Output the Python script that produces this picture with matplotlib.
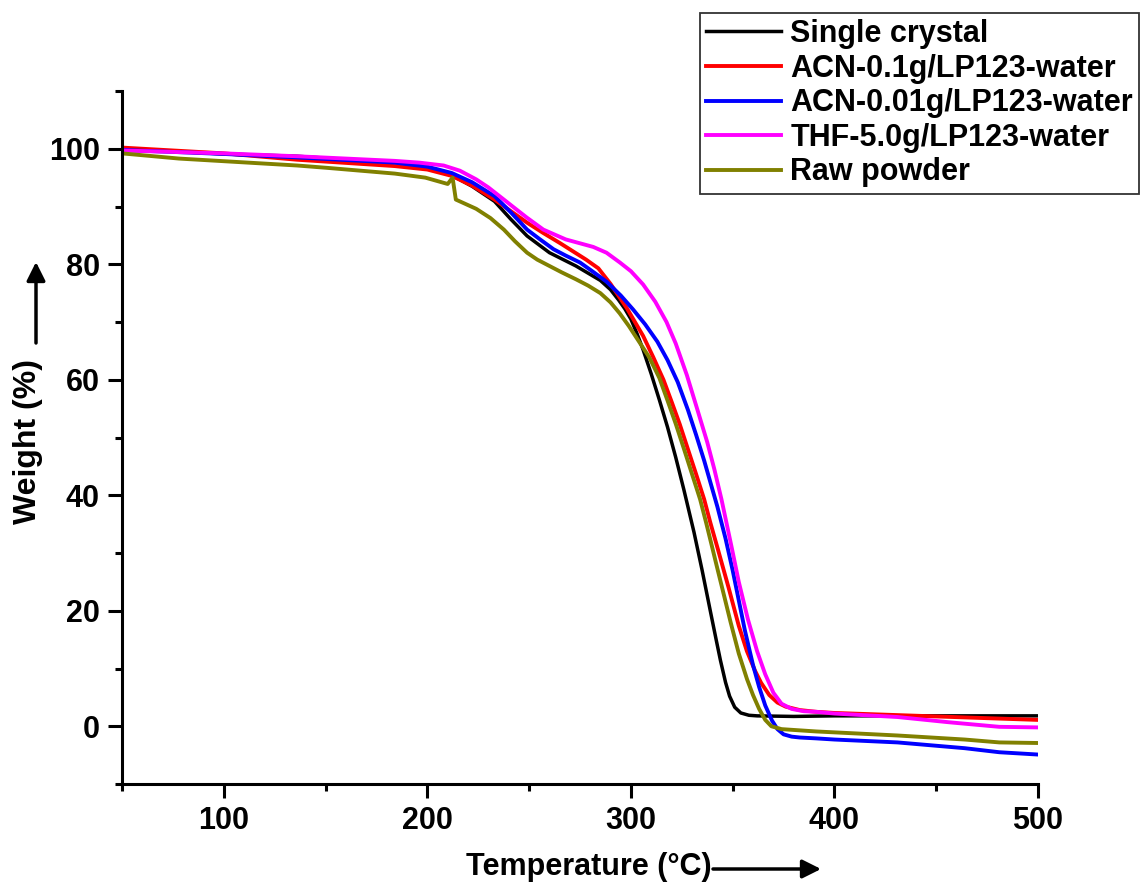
import matplotlib
matplotlib.use("Agg")
import matplotlib.pyplot as plt
from matplotlib.ticker import MultipleLocator

plt.rcParams['font.family'] = ['Liberation Sans', 'DejaVu Sans']
plt.rcParams['font.weight'] = 'bold'

# ---- data ----
labels = ["Single crystal", "ACN-0.1g/LP123-water", "ACN-0.01g/LP123-water",
          "THF-5.0g/LP123-water", "Raw powder"]
colors = ["#000000", "#ff0000", "#0000ff", "#ff00ff", "#808000"]

t_single = [50, 100, 136, 184, 200, 210, 222, 233, 241, 249, 260, 273, 285, 290, 294, 297,
            300, 303, 306, 310, 314, 318, 322, 326, 331, 335, 339, 342, 344, 346.5, 348.5,
            351, 354, 358, 362, 380, 400, 450, 500]
w_single = [100, 99.1, 98.7, 97.6, 96.8, 95.8, 93.5, 90.9, 87.8, 84.9, 82.0, 79.7, 77.2, 75.6,
            73.8, 72.3, 70.5, 68.0, 65.2, 61.0, 56.5, 51.8, 46.6, 41.0, 33.6, 27.0, 20.0, 14.8,
            11.4, 7.6, 5.2, 3.3, 2.3, 1.9, 1.8, 1.7, 1.8, 1.8, 1.8]

t_acn01 = [50, 100, 136, 184, 200, 212, 222, 233, 241, 249, 257, 265, 278, 284, 290, 298, 306,
           311, 316, 320, 324, 328, 332, 336, 339, 342.7, 348, 353, 357, 361, 364, 368, 372,
           376, 383, 391, 400, 450, 500]
w_acn01 = [100.2, 99.2, 98.1, 97.0, 96.4, 95.3, 93.6, 91.2, 89.2, 87.2, 85.4, 83.7, 80.8, 79.3,
           76.6, 72.4, 67.6, 63.9, 60.0, 56.2, 52.3, 48.0, 43.7, 39.3, 35.3, 30.7, 24.0, 17.4,
           13.0, 9.6, 7.5, 5.4, 4.1, 3.4, 2.8, 2.5, 2.3, 1.7, 1.1]

t_acn001 = [50, 100, 136, 184, 200, 212, 222, 233, 241, 249, 255, 262, 268, 275, 281, 288, 295,
            301, 307, 313, 318, 323, 328, 332, 336, 342.5, 346.5, 350, 353, 356, 360, 363, 366,
            369.3, 372, 375, 379, 383, 391, 400, 431, 464, 481, 500]
w_acn001 = [99.8, 99.1, 98.5, 97.6, 96.9, 95.8, 94.2, 91.8, 89.0, 86.0, 84.4, 82.6, 81.5, 80.3,
            78.8, 77.0, 74.6, 72.2, 69.6, 66.6, 63.4, 59.6, 54.8, 50.5, 46.0, 38.0, 32.5, 27.0,
            21.8, 16.6, 10.6, 6.8, 3.6, 1.0, -0.5, -1.4, -1.8, -1.95, -2.1, -2.3, -2.8, -3.8,
            -4.5, -4.9]

t_thf = [50, 100, 136, 184, 196, 208, 216, 224, 230, 237.6, 243, 248.8, 257, 268, 281.5, 288,
         294.6, 300, 306, 312, 317.5, 322, 327.5, 332, 337.5, 341, 344.5, 349.5, 353, 357.5,
         362, 366, 370, 374, 379, 385, 391, 400, 431, 456, 481, 500]
w_thf = [99.7, 99.2, 98.7, 97.9, 97.6, 97.1, 96.2, 94.7, 93.3, 91.2, 89.7, 88.1, 86.0, 84.3,
         83.0, 82.0, 80.3, 78.8, 76.5, 73.5, 70.0, 66.3, 60.8, 55.6, 49.2, 44.5, 39.3, 31.0,
         25.0, 18.5, 13.0, 9.0, 5.8, 3.9, 3.0, 2.6, 2.5, 2.2, 1.6, 0.7, -0.1, -0.2]

t_raw = [50, 78, 136, 150.5, 184, 199, 210, 212.4, 214, 224, 231, 237.6, 243, 249, 254, 260,
         266, 273, 279, 285, 290, 294.5, 299, 304, 309, 314, 318, 322, 326, 330, 334, 337, 340,
         342, 346, 349, 353, 357, 360, 363, 366, 369, 374, 391, 431, 464, 481, 500]
w_raw = [99.2, 98.3, 97.1, 96.7, 95.7, 95.0, 93.9, 95.0, 91.2, 89.6, 88.0, 86.0, 84.0, 82.0,
         80.8, 79.7, 78.6, 77.4, 76.3, 75.0, 73.4, 71.5, 69.3, 66.6, 63.9, 60.3, 56.4, 52.4,
         48.1, 43.7, 39.3, 35.2, 30.9, 28.0, 22.3, 18.0, 12.6, 8.2, 5.4, 3.0, 1.1, 0.0, -0.5,
         -0.9, -1.6, -2.3, -2.8, -2.9]

series_t = [t_single, t_acn01, t_acn001, t_thf, t_raw]
series_w = [w_single, w_acn01, w_acn001, w_thf, w_raw]
widths = [2.5, 2.8, 2.8, 2.8, 2.8]

x_major = [100, 200, 300, 400, 500]
y_major = [0, 20, 40, 60, 80, 100]

# ---- figure ----
fig = plt.figure(figsize=(11.4, 8.92), dpi=100)
ax = fig.add_axes([122/1140, 1 - 784/892, (1038 - 122)/1140, (784 - 91)/892])

lines = []
for t, w, c, lab, lw in zip(series_t, series_w, colors, labels, widths):
    ln, = ax.plot(t, w, color=c, lw=lw, label=lab, solid_joinstyle='round')
    lines.append(ln)

ax.set_xlim(50, 500)
ax.set_ylim(-10, 110)
ax.set_xticks(x_major)
ax.set_yticks(y_major)
ax.xaxis.set_minor_locator(MultipleLocator(50))
ax.yaxis.set_minor_locator(MultipleLocator(10))

for s in ['top', 'right']:
    ax.spines[s].set_visible(False)
for s in ['left', 'bottom']:
    ax.spines[s].set_linewidth(2.2)

ax.tick_params(which='major', direction='out', length=10, width=2.2, labelsize=22, pad=6)
ax.tick_params(which='minor', direction='out', length=5, width=2.2)
for lbl in ax.get_xticklabels() + ax.get_yticklabels():
    lbl.set_fontweight('bold')

leg = ax.legend(handles=lines, loc='upper right', bbox_to_anchor=(1139/1140, 1 - 13/892),
                bbox_transform=fig.transFigure, fontsize=22, frameon=True, fancybox=False,
                edgecolor='black', handlelength=2.45, handletextpad=0.3, labelspacing=0.15,
                borderpad=0.2, borderaxespad=0)
leg.get_frame().set_linewidth(1.3)
for txt in leg.get_texts():
    txt.set_fontweight('bold')

# axis titles with arrows
fig.text(28/1140, 1 - 442/892, "Weight (%)", rotation=90, ha='center', va='center',
         fontsize=23, fontweight='bold')
fig.text(589/1140, 1 - 875/892, "Temperature (\u00b0C)", ha='center', va='baseline',
         fontsize=22, fontweight='bold')

ax.annotate("", xy=(36/1140, 1 - 262/892), xytext=(36/1140, 1 - 343/892),
            xycoords='figure fraction', textcoords='figure fraction',
            arrowprops=dict(arrowstyle='-|>', lw=2.5, color='black', mutation_scale=28,
                            shrinkA=0, shrinkB=0), annotation_clip=False)
ax.annotate("", xy=(821/1140, 1 - 869/892), xytext=(713/1140, 1 - 869/892),
            xycoords='figure fraction', textcoords='figure fraction',
            arrowprops=dict(arrowstyle='-|>', lw=2.5, color='black', mutation_scale=28,
                            shrinkA=0, shrinkB=0), annotation_clip=False)

fig.savefig("out.png", dpi=100)
